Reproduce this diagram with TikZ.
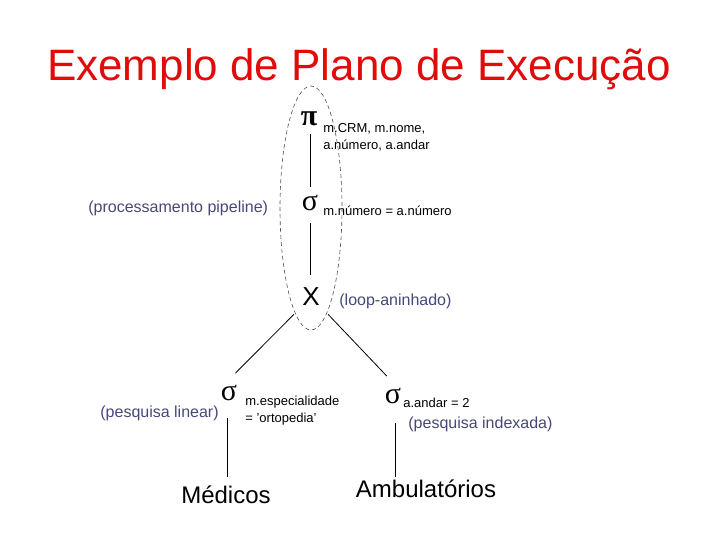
\documentclass[tikz,border=0pt]{standalone}
\usepackage{fontspec}
\setmainfont{Liberation Sans}
\newfontfamily\greekfont{Liberation Serif}
\usetikzlibrary{positioning}
\definecolor{titleRed}{HTML}{E00C0C}
\definecolor{noteBlue}{HTML}{47477A}
\definecolor{ovalGrey}{HTML}{505050}

\begin{document}
\begin{tikzpicture}[x=1pt, y=-1pt, line width=0.8pt,
    op/.style={font=\greekfont\fontsize{30}{30}\selectfont, inner sep=0pt, minimum height=26pt},
    rel/.style={font=\fontsize{24}{24}\selectfont, inner sep=0pt, anchor=base},
    cond/.style={font=\fontsize{13}{17.5}\selectfont, align=left, inner sep=0pt},
    note/.style={font=\fontsize{16}{16}\selectfont, text=noteBlue, inner sep=0pt, anchor=base west}]
    \useasboundingbox (0,0) rectangle (720,540);

    \node[text=titleRed, font=\fontsize{44}{44}\selectfont, anchor=base] (title) at (359,81)
      {Exemplo de Plano de Execução};

    % operadores
    \node[op] (proj) at (309,119) {\bfseries π};
    \node[op] (sel)  at (310,203) {σ};
    \node[font=\fontsize{26}{26}\selectfont, inner sep=8pt] (join) at (311,297) {X};
    \node[op] (selL) at (229,393) {σ};
    \node[op] (selR) at (393,396) {σ};

    % relações
    \node[rel] (med) at (226,503) {Médicos};
    \node[rel] (amb) at (426,497) {Ambulatórios};

    % condições
    \node[cond, anchor=north west] (projC) at (323,123) {m.CRM, m.nome,\\a.número, a.andar};
    \node[cond, anchor=base west] (selC) at (323,215) {m.número = a.número};
    \node[cond, anchor=north west] (selLC) at (245,395.5) {m.especialidade\\= 'ortopedia'};
    \node[cond, anchor=base west] (selRC) at (403,407) {a.andar = 2};

    % notas
    \node[note] (pipe) at (88,212) {(processamento pipeline)};
    \node[note] (loop) at (339,305) {(loop-aninhado)};
    \node[note] (lin)  at (100,417) {(pesquisa linear)};
    \node[note] (idx)  at (408,428) {(pesquisa indexada)};

    % arestas
    \draw[shorten <=2pt, shorten >=3pt] ([xshift=1pt]proj.south) -- ([xshift=1pt]proj.south |- sel.north);
    \draw[shorten <=7pt, shorten >=5pt] (sel.south) -- (sel.south |- join.north);
    \draw[shorten >=9pt] (join.south west) -- (selL.north);
    \draw[shorten >=9pt] (join.south east) -- (selR.north);
    \draw[shorten <=12pt, shorten >=8pt] ([xshift=-2pt]selL.south) -- ([xshift=-2pt]selL.south |- med.north);
    \draw[shorten <=14pt, shorten >=2pt] ([xshift=2pt]selR.south) -- ([xshift=2pt]selR.south |- amb.north);

    % pipeline
    \draw[ovalGrey, line width=0.6pt, dash pattern=on 4pt off 3pt] (311,208) ellipse [x radius=31, y radius=122];
\end{tikzpicture}
\end{document}
